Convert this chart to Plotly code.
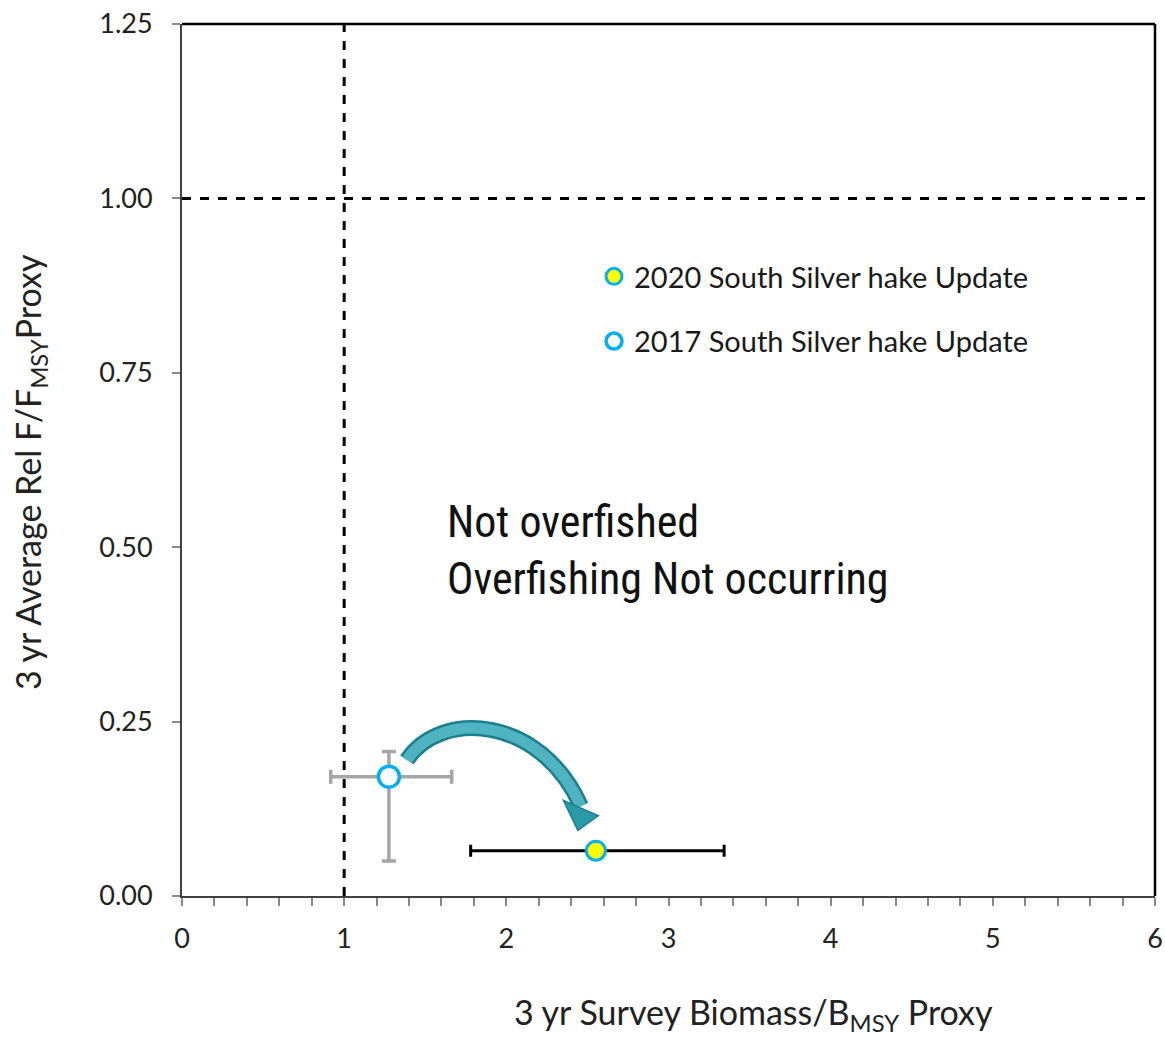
import plotly.graph_objects as go

# ---- data ----
series_names = ["2020 South Silver hake Update", "2017 South Silver hake Update"]
b_ratio = [2.552, 1.276]          # 3 yr survey biomass / BMSY proxy
f_ratio = [0.065, 0.171]          # 3 yr average rel F / FMSY proxy
b_err_plus = [0.791, 0.387]
b_err_minus = [0.772, 0.359]
f_err_plus = [0.0, 0.036]
f_err_minus = [0.0, 0.121]
ref_b = 1.0
ref_f = 1.0
x_ticks = [0, 1, 2, 3, 4, 5, 6]
y_ticks = [0.0, 0.25, 0.5, 0.75, 1.0, 1.25]
y_tick_labels = ["0.00", "0.25", "0.50", "0.75", "1.00", "1.25"]

BODY = "Lato, Carlito, 'Open Sans', sans-serif"
NARROW = "'Liberation Sans Narrow', 'Roboto Condensed', 'Arial Narrow', Roboto, sans-serif"
BLUE = "#00b0f0"

# plot-area pixel box in the page
PL, PR, PT, PB = 182, 1155, 24, 896
W, H = 1165, 1038


def px_x(p):
    return (p - PL) / (PR - PL)


def px_y(p):
    return (PB - p) / (PB - PT)


fig = go.Figure()

# 2020
fig.add_trace(go.Scatter(
    x=[b_ratio[0]], y=[f_ratio[0]], mode="markers", name=series_names[0],
    legendgroup="a",
    marker=dict(size=19, color="#ffff00", line=dict(color=BLUE, width=3)),
    error_x=dict(type="data", symmetric=False, array=[b_err_plus[0]],
                 arrayminus=[b_err_minus[0]], color="black", thickness=3, width=6),
))
# 2017
fig.add_trace(go.Scatter(
    x=[b_ratio[1]], y=[f_ratio[1]], mode="markers", name=series_names[1],
    legendgroup="b",
    marker=dict(size=21, color="white", line=dict(color=BLUE, width=3.5)),
    error_x=dict(type="data", symmetric=False, array=[b_err_plus[1]],
                 arrayminus=[b_err_minus[1]], color="#a6a6a6", thickness=3.5, width=7),
    error_y=dict(type="data", symmetric=False, array=[f_err_plus[1]],
                 arrayminus=[f_err_minus[1]], color="#a6a6a6", thickness=3.5, width=7),
))

# reference lines
fig.add_shape(type="line", x0=ref_b, x1=ref_b, y0=0, y1=1.25, xref="x", yref="y",
              line=dict(color="black", width=3, dash="dash"), layer="below")
fig.add_shape(type="line", x0=0, x1=6, y0=ref_f, y1=ref_f, xref="x", yref="y",
              line=dict(color="black", width=3, dash="dash"), layer="below")

# curved arrow from the 2017 point towards the 2020 point (offsets relative to points)
x17, y17 = b_ratio[1], f_ratio[1]
x20, y20 = b_ratio[0], f_ratio[0]
p0 = (x17 + 0.111, y17 + 0.024)
c1 = (x17 + 0.315, y17 + 0.096)
c2 = (x20 - 0.345, y20 + 0.195)
p3 = (x20 - 0.092, y20 + 0.064)
path = f"M {p0[0]},{p0[1]} C {c1[0]},{c1[1]} {c2[0]},{c2[1]} {p3[0]},{p3[1]}"
fig.add_shape(type="path", path=path, xref="x", yref="y",
              line=dict(color="#1e7f8c", width=16), layer="above")
fig.add_shape(type="path", path=path, xref="x", yref="y",
              line=dict(color="#4fb3c2", width=11), layer="above")
head = (f"M {x20 - 0.200},{y20 + 0.072} L {x20 + 0.015},{y20 + 0.050} "
        f"L {x20 - 0.111},{y20 + 0.029} Z")
fig.add_shape(type="path", path=head, xref="x", yref="y",
              fillcolor="#2a9aa8", line=dict(color="#1e7f8c", width=1.5), layer="above")

# status text
fig.add_annotation(x=1.62, y=0.495, xref="x", yref="y", xanchor="left", yanchor="middle",
                   align="left", showarrow=False,
                   text="Not overfished<br>Overfishing Not occurring",
                   font=dict(family=NARROW, size=44, color="#111"))

# axis titles
fig.add_annotation(x=px_x(753), y=px_y(1014), xref="paper", yref="paper", showarrow=False,
                   xanchor="center", yanchor="middle",
                   text="3 yr Survey Biomass/B<sub>MSY</sub> Proxy",
                   font=dict(family=BODY, size=34, color="#222"))
fig.add_annotation(x=px_x(30), y=px_y(472),
                   xref="paper", yref="paper", showarrow=False, textangle=-90,
                   xanchor="center", yanchor="middle",
                   text="3 yr Average Rel F/F<sub>MSY</sub>Proxy",
                   font=dict(family=BODY, size=34, color="#222"))

fig.update_layout(
    width=W, height=H,
    margin=dict(l=PL, r=W - PR, t=PT, b=H - PB, autoexpand=False),
    plot_bgcolor="white", paper_bgcolor="white",
    showlegend=True,
    legend=dict(x=px_x(594), y=px_y(251),
                xanchor="left", yanchor="top", traceorder="grouped",
                tracegroupgap=24, itemsizing="trace", itemwidth=30,
                font=dict(family=BODY, size=29, color="#1a1a1a"),
                bgcolor="rgba(0,0,0,0)"),
    xaxis=dict(range=[0, 6], tickvals=x_ticks, showgrid=False, zeroline=False,
               automargin=False,
               showline=True, linecolor="#404040", linewidth=2, mirror=False,
               ticks="outside", ticklen=8, tickcolor="#888", tickwidth=2,
               ticklabelstandoff=10,
               minor=dict(dtick=0.2, ticks="outside", ticklen=8, tickcolor="#888", tickwidth=2),
               tickfont=dict(family=BODY, size=27, color="#222")),
    yaxis=dict(range=[0, 1.25], tickvals=y_ticks, ticktext=y_tick_labels,
               showgrid=False, zeroline=False, automargin=False,
               showline=True, linecolor="#404040", linewidth=2, mirror=False,
               ticks="outside", ticklen=8, tickcolor="#888", tickwidth=2,
               ticklabelstandoff=14,
               tickfont=dict(family=BODY, size=27, color="#222")),
)
# top / right frame
fig.add_shape(type="line", xref="paper", yref="paper", x0=0, x1=1, y0=1, y1=1,
              line=dict(color="black", width=2.5))
fig.add_shape(type="line", xref="paper", yref="paper", x0=1, x1=1, y0=0, y1=1,
              line=dict(color="black", width=2.5))

fig.write_html("out.html", config={"displayModeBar": False},
               post_script="document.body.style.margin='0';document.body.style.overflow='hidden';")
